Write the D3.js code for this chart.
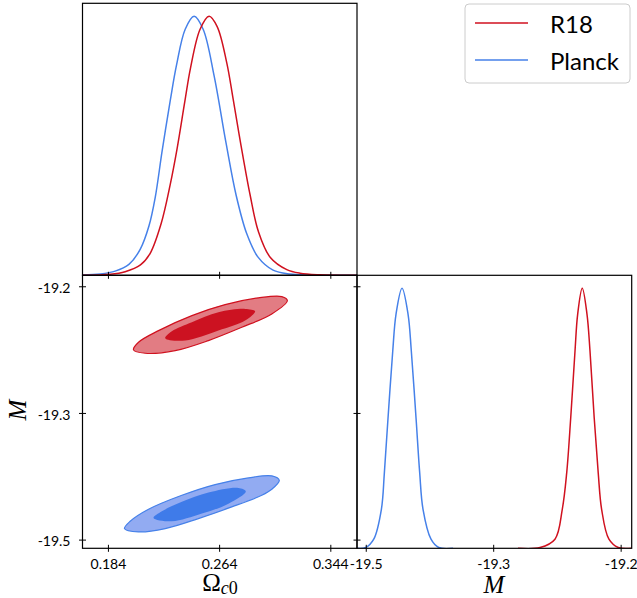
<!DOCTYPE html>
<html>
<head>
<meta charset="utf-8">
<script src="https://cdn.jsdelivr.net/npm/d3@7"></script>
<style>
    body { margin: 0; background: #fff; }
    svg { display: block; }
    .tick text { font-family: Lato, "DejaVu Sans", sans-serif; font-size: 14px; fill: #000; }
    .tick line { stroke: #000; stroke-width: 1; }
    .frame { fill: none; stroke: #000; stroke-width: 1.2; }
    .mathlabel { font-family: "Liberation Serif", "DejaVu Serif", serif; fill: #000; }
</style>
</head>
<body>
<div id="chart"></div>
<script>
// --- data ---
const series = ['R18', 'Planck'];
const omegaTicks = [0.184, 0.264, 0.344];
const omegaTickLabels = ['0.184', '0.264', '0.344'];
const mTicks = [-19.5, -19.35, -19.2];
const mTickLabels = ['-19.5', '-19.3', '-19.2'];

// 1D marginal of Omega_c0 (normalised density)
const r18OmegaX = [0.1655, 0.1857, 0.1964, 0.2074, 0.2144, 0.2223, 0.2288, 0.2338, 0.2393, 0.2434, 0.2503, 0.2568,
    0.2626, 0.2695, 0.2741, 0.2798, 0.2863, 0.2922, 0.3007, 0.3127, 0.3222, 0.3366, 0.3632];
const r18OmegaP = [0, 0.004, 0.014, 0.04, 0.085, 0.20, 0.35, 0.49, 0.67, 0.80, 0.95, 1.0,
    0.96, 0.82, 0.68, 0.50, 0.31, 0.17, 0.07, 0.022, 0.008, 0.002, 0];
const planckOmegaX = [0.1655, 0.1785, 0.1892, 0.1991, 0.2072, 0.2135, 0.2180, 0.2230, 0.2290, 0.2333, 0.2396, 0.2460,
    0.2525, 0.2604, 0.2690, 0.2762, 0.2839, 0.2920, 0.3028, 0.3150, 0.3294, 0.3632];
const planckOmegaP = [0.001, 0.005, 0.016, 0.042, 0.10, 0.19, 0.30, 0.48, 0.68, 0.81, 0.95, 1.0,
    0.95, 0.77, 0.51, 0.31, 0.16, 0.07, 0.02, 0.005, 0.001, 0];

// 1D marginal of M
const r18MX = [-19.3208, -19.2949, -19.2773, -19.2687, -19.2635, -19.2588, -19.2537, -19.2506, -19.2452,
    -19.2396, -19.2361, -19.2311, -19.2264, -19.2224, -19.2138, -19.2028, -19.1870];
const r18MP = [0, 0.003, 0.035, 0.15, 0.29, 0.50, 0.76, 0.90, 1.0, 0.90, 0.76, 0.50, 0.29, 0.15, 0.035, 0.003, 0];
const planckMX = [-19.5103, -19.5000, -19.4906, -19.4816, -19.4781, -19.4738, -19.4682, -19.4644, -19.4573,
    -19.4502, -19.4464, -19.4408, -19.4365, -19.4326, -19.4232, -19.4141, -19.3973];
const planckMP = [0, 0.003, 0.035, 0.15, 0.29, 0.50, 0.76, 0.90, 1.0, 0.90, 0.76, 0.50, 0.29, 0.15, 0.035, 0.003, 0];

// 2D contours [Omega_c0, M]
const r18Outer = [[0.2024, -19.2753], [0.2108, -19.2793], [0.2324, -19.2762], [0.2563, -19.2643], [0.2803, -19.2486],
    [0.3019, -19.2327], [0.3131, -19.2169], [0.3091, -19.2122], [0.2923, -19.2137], [0.2683, -19.2217],
    [0.2444, -19.2347], [0.2204, -19.2525], [0.2060, -19.2663]];
const r18Inner = [[0.2252, -19.2616], [0.2396, -19.2643], [0.2635, -19.2525], [0.2827, -19.2406], [0.2899, -19.2296],
    [0.2827, -19.2268], [0.2635, -19.2308], [0.2444, -19.2426], [0.2300, -19.2533]];
const planckOuter = [[0.1959, -19.4870], [0.2060, -19.4909], [0.2252, -19.4870], [0.2491, -19.4751], [0.2731, -19.4613],
    [0.2947, -19.4475], [0.3019, -19.4404], [0.3073, -19.4298], [0.3019, -19.4245], [0.2851, -19.4269],
    [0.2611, -19.4348], [0.2372, -19.4475], [0.2132, -19.4641], [0.2000, -19.4783]];
const planckInner = [[0.2168, -19.4743], [0.2300, -19.4783], [0.2516, -19.4692], [0.2707, -19.4574], [0.2832, -19.4428],
    [0.2779, -19.4388], [0.2563, -19.4443], [0.2372, -19.4553], [0.2228, -19.4665]];

const COLORS = {
    R18: { line: '#d0111f', inner: '#cc1221', outer: '#e27c83' },
    Planck: { line: '#4681e9', inner: '#3f7be9', outer: '#92abf2' },
};

// --- layout ---
const W = 637, H = 598;
const x0Left = 82.5, xMid = 357, x1Right = 631.7;
const yTop = 3.3, yMid = 275.3, yBottom = 548.3;

const svg = d3.select('#chart').append('svg').attr('width', W).attr('height', H);

const xOmega = d3.scaleLinear().domain([0.1657, 0.3632]).range([x0Left, xMid]);
const xM = d3.scaleLinear().domain([-19.5103, -19.1870]).range([xMid, x1Right]);
const yM = d3.scaleLinear().domain([-19.5103, -19.1870]).range([yBottom, yMid]);
const yDensTop = d3.scaleLinear().domain([0, 1.05]).range([yMid, yTop]);
const yDensBot = d3.scaleLinear().domain([0, 1.05]).range([yBottom, yMid]);

const clip = (id, x, y, w, h) => svg.append('clipPath').attr('id', id)
    .append('rect').attr('x', x).attr('y', y).attr('width', w).attr('height', h);
clip('c-top', x0Left, yTop, xMid - x0Left, yMid - yTop);
clip('c-bl', x0Left, yMid, xMid - x0Left, yBottom - yMid);
clip('c-br', xMid, yMid, x1Right - xMid, yBottom - yMid);

const density = (xs, ps, sx, sy) => d3.line()
    .x((d, i) => sx(xs[i]))
    .y((d, i) => sy(Math.max(0, ps[i])))
    .curve(d3.curveCatmullRom.alpha(0.5))(xs);

// top-left: Omega marginals
const gTop = svg.append('g').attr('clip-path', 'url(#c-top)');
[['Planck', planckOmegaX, planckOmegaP], ['R18', r18OmegaX, r18OmegaP]].forEach(([name, xs, ps]) => {
    gTop.append('path')
        .attr('d', density(xs, ps, xOmega, yDensTop))
        .attr('fill', 'none')
        .attr('stroke', COLORS[name].line)
        .attr('stroke-width', 1.5);
});

// bottom-left: 2D contours
const gBl = svg.append('g').attr('clip-path', 'url(#c-bl)');
const contour = d3.line()
    .x(d => xOmega(d[0]))
    .y(d => yM(d[1]))
    .curve(d3.curveCatmullRomClosed.alpha(0.5));
[['R18', r18Outer, r18Inner], ['Planck', planckOuter, planckInner]].forEach(([name, outer, inner]) => {
    gBl.append('path').attr('d', contour(outer))
        .attr('fill', COLORS[name].outer)
        .attr('stroke', COLORS[name].line)
        .attr('stroke-width', 1.2);
    gBl.append('path').attr('d', contour(inner))
        .attr('fill', COLORS[name].inner);
});

// bottom-right: M marginals
const gBr = svg.append('g').attr('clip-path', 'url(#c-br)');
[['Planck', planckMX, planckMP], ['R18', r18MX, r18MP]].forEach(([name, xs, ps]) => {
    gBr.append('path')
        .attr('d', density(xs, ps, xM, yDensBot))
        .attr('fill', 'none')
        .attr('stroke', COLORS[name].line)
        .attr('stroke-width', 1.5);
});

// axes with ticks crossing the spine
const inout = (g, horizontal) => {
    g.select('.domain').remove();
    if (horizontal) {
        g.selectAll('.tick line').attr('y1', -3.5).attr('y2', 3.5);
    } else {
        g.selectAll('.tick line').attr('x1', -3.5).attr('x2', 3.5);
    }
};

svg.append('g')
    .attr('transform', `translate(0,${yMid})`)
    .call(d3.axisBottom(xOmega).tickValues(omegaTicks).tickFormat(''))
    .call(g => inout(g, true));

svg.append('g')
    .attr('transform', `translate(0,${yBottom})`)
    .call(d3.axisBottom(xOmega).tickValues(omegaTicks)
        .tickFormat((d, i) => omegaTickLabels[i]).tickPadding(5))
    .call(g => inout(g, true));

svg.append('g')
    .attr('transform', `translate(0,${yBottom})`)
    .call(d3.axisBottom(xM).tickValues(mTicks)
        .tickFormat((d, i) => mTickLabels[i]).tickPadding(5))
    .call(g => inout(g, true));

svg.append('g')
    .attr('transform', `translate(${x0Left},0)`)
    .call(d3.axisLeft(yM).tickValues(mTicks)
        .tickFormat((d, i) => mTickLabels[i]).tickPadding(6))
    .call(g => inout(g, false))
    .call(g => g.selectAll('.tick text').attr('dy', '0.45em'));

svg.append('g')
    .attr('transform', `translate(${xMid},0)`)
    .call(d3.axisLeft(yM).tickValues(mTicks).tickFormat(''))
    .call(g => inout(g, false));

// frames
[[x0Left, yTop, xMid, yMid], [x0Left, yMid, xMid, yBottom], [xMid, yMid, x1Right, yBottom]].forEach(([a, b, c, d]) => {
    svg.append('rect').attr('class', 'frame')
        .attr('x', a).attr('y', b).attr('width', c - a).attr('height', d - b);
});

// axis labels
const omegaLabel = svg.append('text').attr('class', 'mathlabel')
    .attr('x', 220).attr('y', 591).attr('text-anchor', 'middle').attr('font-size', 25);
omegaLabel.append('tspan').text('Ω');
omegaLabel.append('tspan').attr('font-size', 18).attr('dy', 3).attr('font-style', 'italic').text('c');
omegaLabel.append('tspan').attr('font-size', 18).text('0');

svg.append('text').attr('class', 'mathlabel')
    .attr('x', 494).attr('y', 593).attr('text-anchor', 'middle')
    .attr('font-size', 25).attr('font-style', 'italic').text('M');

svg.append('text').attr('class', 'mathlabel')
    .attr('transform', 'translate(26,410) rotate(-90)')
    .attr('text-anchor', 'middle')
    .attr('font-size', 25).attr('font-style', 'italic').text('M');

// legend
const legend = svg.append('g').attr('transform', 'translate(465,4)');
legend.append('rect')
    .attr('width', 165).attr('height', 79).attr('rx', 4)
    .attr('fill', '#fff').attr('fill-opacity', 0.8)
    .attr('stroke', '#cccccc').attr('stroke-width', 1);
series.forEach((name, i) => {
    const y = 19 + i * 37;
    legend.append('line')
        .attr('x1', 10).attr('x2', 63).attr('y1', y).attr('y2', y)
        .attr('stroke', COLORS[name].line).attr('stroke-width', 1.5);
    legend.append('text')
        .attr('x', 85).attr('y', y + 10)
        .attr('font-family', 'Lato, "DejaVu Sans", sans-serif')
        .attr('font-size', 24)
        .text(name);
});
</script>
</body>
</html>
